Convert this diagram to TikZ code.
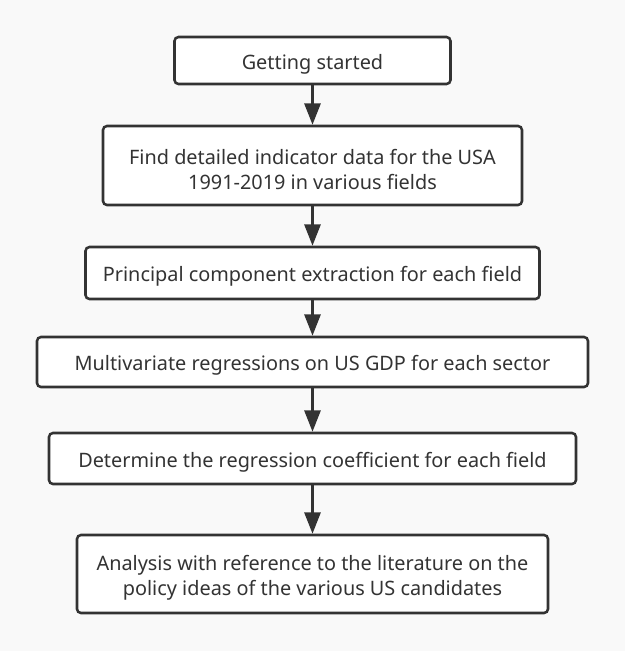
\documentclass[tikz,border=0pt]{standalone}
\usepackage{fontspec}
\setmainfont{Noto Sans}
\usetikzlibrary{arrows.meta}
\definecolor{bg}{HTML}{F9F9F9}
\definecolor{ink}{HTML}{333333}
\tikzset{
  stepbox/.style={draw=ink, line width=1.9pt, fill=white, rounded corners=3pt,
    inner sep=0pt},
  steptext/.style={text=ink, align=center, inner sep=0pt, yshift=-2.8pt,
    font=\fontsize{14.9pt}{18.75pt}\selectfont},
  flow/.style={draw=ink, line width=2.1pt, -{Triangle[length=16pt,width=12pt]}},
}
\begin{document}
\begin{tikzpicture}[x=0.75pt,y=-0.75pt]
\fill[bg] (0,0) rectangle (625,651);
\useasboundingbox (0,0) rectangle (625,651);
\node[stepbox, minimum width=207pt, minimum height=35.25pt,
  label={[steptext]center:{Getting started}}] (b1) at (312.5,60.5) {};
\node[stepbox, minimum width=314.25pt, minimum height=59.25pt,
  label={[steptext]center:{Find detailed indicator data for the USA\\1991-2019 in various fields}}] (b2) at (312.5,165.5) {};
\node[stepbox, minimum width=340.5pt, minimum height=39pt,
  label={[steptext]center:{Principal component extraction for each field}}] (b3) at (312.5,273) {};
\node[stepbox, minimum width=413.25pt, minimum height=37.5pt,
  label={[steptext]center:{Multivariate regressions on US GDP for each sector}}] (b4) at (312.5,362) {};
\node[stepbox, minimum width=395.25pt, minimum height=38.25pt,
  label={[steptext]center:{Determine the regression coefficient for each field}}] (b5) at (312.5,458.5) {};
\node[stepbox, minimum width=353.25pt, minimum height=58.5pt,
  label={[steptext]center:{Analysis with reference to the literature on the\\policy ideas of the various US candidates}}] (b6) at (312.5,574) {};
\draw[flow] (b1) -- (b2);
\draw[flow] (b2) -- (b3);
\draw[flow] (b3) -- (b4);
\draw[flow] (b4) -- (b5);
\draw[flow] (b5) -- (b6);
\end{tikzpicture}
\end{document}
